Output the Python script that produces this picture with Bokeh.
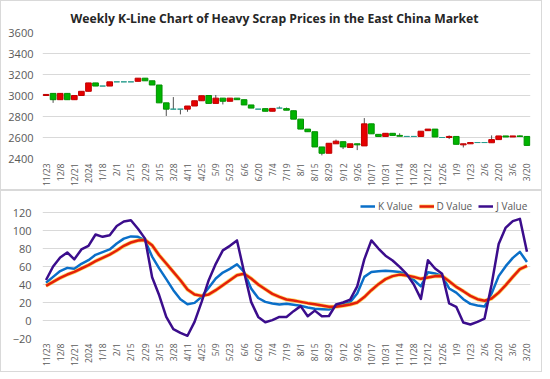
import math
from bokeh.plotting import figure
from bokeh.models import Range1d, FixedTicker, Legend, LegendItem, ColumnDataSource
from bokeh.layouts import column
from bokeh.embed import file_html
from bokeh.resources import INLINE

# ---------------- data ----------------
dates = ["11/23", "11/30", "12/8", "12/14", "12/21", "12/28", "2024", "1/11", "1/18", "1/25",
         "2/1", "2/8", "2/15", "2/22", "2/29", "3/7", "3/15", "3/21", "3/28", "4/3",
         "4/11", "4/18", "4/25", "5/2", "5/9", "5/16", "5/23", "5/30", "6/6", "6/13",
         "6/20", "6/27", "7/4", "7/11", "7/19", "7/25", "8/1", "8/8", "8/15", "8/22",
         "8/29", "9/5", "9/12", "9/19", "9/26", "10/10", "10/17", "10/24", "10/31", "11/7",
         "11/14", "11/21", "11/28", "12/5", "12/12", "12/19", "12/26", "1/2", "1/9", "1/16",
         "1/23", "1/30", "2/6", "2/13", "2/20", "2/27", "3/6", "3/13", "3/20"]

open_ = [3000, 3020, 2960, 3020, 2960, 3000, 3040, 3120, 3090, 3090,
         3130, 3130, 3130, 3135, 3165, 3140, 3100, 2930, 2870, 2870,
         2870, 2900, 2950, 3000, 2925, 2975, 2945, 2975, 2960, 2910,
         2870, 2875, 2850, 2880, 2875, 2855, 2775, 2680, 2655, 2510,
         2450, 2540, 2560, 2505, 2540, 2520, 2730, 2630, 2610, 2640,
         2620, 2610, 2610, 2610, 2665, 2680, 2600, 2600, 2610, 2530,
         2540, 2552, 2552, 2550, 2580, 2615, 2605, 2615, 2610]
close_ = [3010, 2960, 3020, 2960, 3000, 3040, 3120, 3090, 3090, 3130,
          3130, 3130, 3130, 3165, 3140, 3100, 2930, 2870, 2870, 2870,
          2900, 2950, 2998, 2925, 2975, 2945, 2975, 2960, 2910, 2880,
          2870, 2850, 2877, 2880, 2860, 2775, 2680, 2655, 2510, 2450,
          2545, 2565, 2510, 2540, 2530, 2730, 2635, 2610, 2640, 2620,
          2612, 2610, 2610, 2660, 2680, 2605, 2600, 2610, 2535, 2540,
          2552, 2552, 2552, 2580, 2615, 2605, 2615, 2610, 2525]
high = [3010, 3020, 3020, 3020, 3000, 3040, 3120, 3120, 3090, 3130,
        3130, 3130, 3130, 3165, 3165, 3140, 3100, 2930, 2985, 2870,
        2900, 2950, 2998, 3000, 3005, 2975, 2975, 2975, 2960, 2910,
        2870, 2875, 2877, 2895, 2885, 2855, 2775, 2680, 2655, 2510,
        2545, 2580, 2560, 2540, 2540, 2785, 2730, 2630, 2640, 2640,
        2640, 2610, 2610, 2660, 2680, 2680, 2600, 2620, 2610, 2540,
        2552, 2552, 2552, 2620, 2615, 2615, 2615, 2620, 2610]
low = [3000, 2930, 2960, 2960, 2960, 3000, 3040, 3090, 3090, 3090,
       3130, 3130, 3130, 3135, 3140, 3100, 2930, 2805, 2870, 2820,
       2845, 2900, 2950, 2925, 2925, 2915, 2945, 2960, 2910, 2880,
       2870, 2850, 2850, 2880, 2860, 2775, 2680, 2655, 2510, 2430,
       2450, 2540, 2490, 2505, 2480, 2520, 2635, 2610, 2610, 2620,
       2612, 2610, 2610, 2610, 2665, 2605, 2600, 2585, 2535, 2505,
       2540, 2552, 2552, 2550, 2580, 2605, 2605, 2610, 2525]

k_value = [42, 48.5, 55, 58.5, 57.5, 63, 67, 73, 76, 79,
           85.5, 91, 93.5, 93, 89, 71, 58, 46, 33.7, 23.7,
           18, 19.6, 26.3, 36.3, 46.7, 53.3, 57.4, 62.5, 54, 35.6,
           25, 20.7, 18.9, 17.8, 18.5, 17.4, 16.3, 14.4, 13, 12.6,
           12.2, 16, 17.8, 20.4, 30, 48.5, 54, 54.8, 55.2, 54.8,
           54, 50.4, 45, 38, 53.7, 52.2, 49.6, 35.6, 31, 23.7,
           18.5, 16.7, 15.5, 30, 49.3, 60.4, 69.6, 76.3, 65]
d_value = [38.5, 43, 47.4, 51.1, 54, 57.8, 61.5, 66, 69.6, 73.3,
           77.8, 83, 86.7, 88.9, 89.6, 83.6, 72.5, 63.3, 54, 44.8,
           34.4, 29, 27.4, 29, 33.7, 39.3, 44.8, 50.4, 52, 46.7,
           40, 34.8, 29.6, 26.3, 23.3, 22.2, 20.7, 19.3, 18.1, 16.7,
           15.2, 15.2, 16.3, 17.8, 20, 26, 33.7, 40.4, 46, 49.3,
           51, 50, 48.5, 46.3, 47.8, 49.3, 49.6, 43.7, 37.4, 32.6,
           27.4, 23.7, 21.9, 24.4, 31, 39.3, 48.5, 57, 60.7]
j_value = [45, 60, 70, 75.6, 68, 79, 83, 95.6, 93, 94.8,
           105, 110, 111.5, 102, 91, 48, 28, 4, -9.6, -13.7,
           -17, -1.5, 20.7, 44.8, 63, 78, 83, 89, 54, 20.7,
           4, -2, 0.4, 4, 4, 10.4, 16, 4.8, 11, 4.8,
           5, 17.8, 20, 23.3, 38, 68, 89, 80, 72, 66.7,
           59.6, 51.5, 40, 24, 67, 57.8, 52, 19, 15.2, -2.2,
           -4.4, -1.5, 2.2, 40, 85, 103.3, 110.4, 113, 76.3]

price_ticks = [2400, 2600, 2800, 3000, 3200, 3400, 3600]
kdj_ticks = [-20, 0, 20, 40, 60, 80, 100, 120]
title_text = "Weekly K-Line Chart of Heavy Scrap Prices in the East China Market"

# ---------------- styling helpers ----------------
FONT = "Open Sans"
GRAY = "#595959"
GRID = "#d9d9d9"
idx = list(range(len(dates)))
label_ticks = idx[::2]
overrides = {i: dates[i] for i in label_ticks}


def style_axes(p, yticks, ystandoff):
    p.xaxis.ticker = FixedTicker(ticks=label_ticks)
    p.xaxis.major_label_overrides = overrides
    p.xaxis.major_label_orientation = math.pi / 2
    p.yaxis.ticker = FixedTicker(ticks=yticks)
    for ax in (p.xaxis, p.yaxis):
        ax.axis_line_color = None
        ax.major_tick_line_color = None
        ax.minor_tick_line_color = None
        ax.major_tick_out = 0
        ax.major_tick_in = 0
        ax.minor_tick_out = 0
        ax.minor_tick_in = 0
        ax.major_label_text_color = GRAY
        ax.major_label_text_font = FONT
    p.xaxis.major_label_text_font_size = "8.5px"
    p.xaxis.major_label_standoff = 5
    p.yaxis.major_label_text_font_size = "11px"
    p.yaxis.major_label_standoff = ystandoff
    p.xgrid.grid_line_color = None
    p.ygrid.grid_line_color = GRID
    p.ygrid.ticker = FixedTicker(ticks=yticks)
    p.outline_line_color = None
    p.background_fill_color = None
    p.border_fill_color = None
    p.styles = {"box-shadow": "inset 0 0 0 1px #d9d9d9", "background-color": "white"}


# ---------------- top: candlesticks ----------------
body_bottom = [min(o, c) for o, c in zip(open_, close_)]
body_top = [max(o, c) for o, c in zip(open_, close_)]
fill = []
edge = []
for o, c in zip(open_, close_):
    if c > o:
        fill.append("#e60000"); edge.append("#c00000")
    elif c < o:
        fill.append("#00b400"); edge.append("#009000")
    else:
        fill.append("#2a9d8f"); edge.append("#2a9d8f")

src = ColumnDataSource(dict(x=idx, high=high, low=low, top=body_top, bottom=body_bottom,
                            fill=fill, edge=edge))

ptop = figure(width=542, height=190, x_range=Range1d(-0.5, 68.5),
              y_range=Range1d(2400, 3600), output_backend="svg", toolbar_location=None,
              min_border_left=35, min_border_right=12, min_border_top=32,
              min_border_bottom=32, title=title_text)
style_axes(ptop, price_ticks, 9)
ptop.title.align = "left"
ptop.title.offset = 28
ptop.title.standoff = 12
ptop.title.text_font = FONT
ptop.title.text_font_style = "bold"
ptop.title.text_font_size = "12.2px"
ptop.title.text_color = "#262626"

ptop.segment(x0="x", y0="high", x1="x", y1="low", source=src, line_color="#505050",
             line_width=1)
ptop.vbar(x="x", width=0.8, top="top", bottom="bottom", source=src,
          fill_color="fill", line_color="edge", line_width=1)

# ---------------- bottom: KDJ ----------------
pbot = figure(width=542, height=182, x_range=Range1d(-0.5, 68.5),
              y_range=Range1d(-20, 135.6), output_backend="svg", toolbar_location=None,
              min_border_left=42, min_border_right=8, min_border_top=8,
              min_border_bottom=34)
style_axes(pbot, kdj_ticks, 11)

rk = pbot.line(idx, k_value, line_color="#0a6fc8", line_width=2.5, line_join="round")
rdg = pbot.line(idx, d_value, line_color="#ffc000", line_width=4.0, line_alpha=0.6,
                line_join="round")
rd = pbot.line(idx, d_value, line_color="#e4200a", line_width=2.5, line_join="round")
rj = pbot.line(idx, j_value, line_color="#3b0d8c", line_width=2.5, line_join="round")

legend = Legend(items=[LegendItem(label="K Value", renderers=[rk]),
                       LegendItem(label="D Value", renderers=[rdg, rd]),
                       LegendItem(label="J Value", renderers=[rj])],
                orientation="horizontal", location=(318, 125),
                label_text_font=FONT, label_text_font_size="10px",
                label_text_color=GRAY, glyph_width=15, glyph_height=10,
                label_height=11, label_standoff=3, spacing=6, padding=0, margin=0,
                background_fill_alpha=0, border_line_color=None)
pbot.add_layout(legend)

layout = column(ptop, pbot, spacing=0)
open("out.html", "w").write(file_html(layout, INLINE))
